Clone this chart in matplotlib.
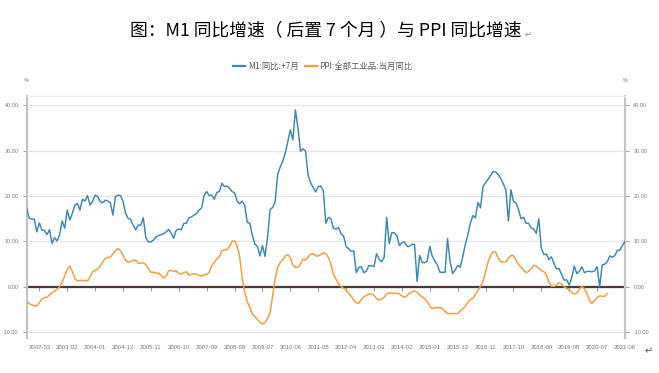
import matplotlib
matplotlib.use("Agg")
import matplotlib.pyplot as plt
import numpy as np
import pandas as pd

plt.rcParams['font.family'] = ['Noto Sans CJK SC', 'DejaVu Sans']

# ---------------- data ----------------
start_month = "2001-10"
n_months = 237

# M1 YoY (shifted +7 months), from 2001-10 axis position onwards
m1_yoy = [
    17.3, 15.1, 14.9, 14.9, 12.1, 14.1, 12.5, 12.4, 11.5, 12.6,
    9.6, 10.8, 10.1, 11.5, 14.5, 12.9, 16.9, 14.7, 16.2, 18.0, 18.4, 16.9,
    19.3, 18.9, 20.1, 18.0, 18.9, 20.2, 19.9, 18.8, 18.5, 19.1, 18.9, 18.5,
    15.8, 19.9, 20.2, 20.1, 18.8, 16.2, 15.1, 14.9, 13.6, 12.5, 13.6, 13.6,
    15.2, 10.8, 9.9, 9.9, 10.3, 11.0, 11.3, 11.5, 11.7, 12.1, 12.6, 11.8,
    10.7, 12.5, 12.7, 12.6, 14.0, 14.0, 15.2, 15.4, 15.8, 16.2, 16.9, 17.4,
    20.2, 21.0, 20.1, 20.2, 19.3, 20.8, 21.0, 22.8, 22.1, 22.2, 21.7, 21.0,
    20.7, 18.9, 18.3, 18.9, 17.9, 14.2, 14.0, 11.4, 9.4, 8.9, 6.8, 9.1,
    6.7, 10.9, 17.0, 17.5, 18.7, 24.8, 26.4, 27.7, 29.5, 32.0, 34.6, 32.4,
    39.0, 35.0, 29.9, 30.4, 29.9, 24.6, 22.9, 21.9, 20.9, 22.1, 22.2, 21.2,
    14.0, 15.3, 15.0, 12.9, 12.7, 13.1, 11.6, 11.2, 8.9, 8.4, 7.8, 7.9,
    3.1, 4.3, 4.4, 3.1, 3.5, 4.7, 4.6, 4.5, 7.3, 6.1, 5.5, 6.5,
    15.3, 9.5, 11.9, 11.9, 11.3, 9.1, 9.7, 9.9, 8.9, 8.9, 9.4, 9.3,
    1.2, 6.9, 5.4, 5.3, 5.7, 8.9, 6.7, 5.7, 4.8, 3.2, 3.2, 3.2,
    10.6, 5.6, 2.9, 3.7, 4.7, 4.3, 6.6, 9.3, 11.4, 14.0, 15.7, 15.2,
    18.6, 17.4, 22.1, 22.9, 23.7, 24.6, 25.4, 25.3, 24.7, 23.9, 22.7, 21.4,
    14.5, 21.4, 18.8, 18.5, 17.0, 15.0, 15.3, 14.0, 14.0, 13.0, 12.7, 11.8,
    15.0, 8.5, 7.1, 7.2, 6.0, 6.6, 5.1, 3.9, 4.0, 2.7, 1.5, 1.5,
    0.4, 2.0, 4.6, 2.9, 3.4, 4.4, 3.1, 3.4, 3.4, 3.3, 3.5, 4.4,
    0.0, 4.8, 5.0, 5.5, 6.8, 6.5, 6.9, 8.0, 8.1, 9.1, 10.0,
]

# PPI YoY, from 2001-10 onwards
ppi_yoy = [
    -3.2, -3.7, -4.0,
    -4.2, -4.2, -3.5, -2.7, -2.4, -2.3, -1.8, -1.3, -1.0, -0.5, 0.0, 1.1,
    2.4, 3.9, 4.6, 3.4, 1.8, 1.3, 1.4, 1.4, 1.4, 1.3, 2.2, 3.3,
    3.6, 3.9, 4.6, 5.5, 6.2, 6.5, 6.5, 7.3, 8.0, 8.4, 8.0, 7.0,
    5.8, 5.4, 5.6, 5.8, 5.9, 5.2, 5.2, 5.3, 4.9, 4.0, 3.2, 3.2,
    3.0, 3.0, 2.5, 1.9, 2.4, 3.5, 3.6, 3.4, 3.5, 2.9, 2.8, 3.1,
    3.3, 2.6, 2.7, 2.9, 2.8, 2.5, 2.4, 2.6, 2.7, 3.2, 4.6, 5.4,
    6.1, 6.6, 8.0, 8.1, 8.2, 8.8, 10.0, 10.1, 9.1, 6.6, 2.0, -1.1,
    -3.3, -4.5, -6.0, -6.6, -7.2, -7.8, -8.2, -7.9, -7.0, -5.8, -2.1, 1.7,
    4.3, 5.4, 5.9, 6.8, 7.1, 6.4, 4.8, 4.3, 4.3, 5.0, 6.1, 5.9,
    6.6, 7.2, 7.3, 6.8, 6.8, 7.1, 7.5, 7.3, 6.5, 5.0, 2.7, 1.7,
    0.7, 0.0, -0.3, -0.7, -1.4, -2.1, -2.9, -3.5, -3.6, -2.8, -2.2, -1.9,
    -1.6, -1.6, -1.9, -2.6, -2.9, -2.7, -2.3, -1.6, -1.3, -1.5, -1.4, -1.4,
    -1.6, -2.0, -2.3, -2.0, -1.4, -1.1, -0.9, -1.2, -1.8, -2.2, -2.7, -3.3,
    -4.3, -4.8, -4.6, -4.6, -4.6, -4.8, -5.4, -5.9, -5.9, -5.9, -5.9, -5.9,
    -5.3, -4.9, -4.3, -3.4, -2.8, -2.6, -1.7, -0.8, 0.1, 1.2, 3.3, 5.5,
    6.9, 7.8, 7.6, 6.4, 5.5, 5.5, 5.5, 6.3, 6.9, 6.9, 5.8, 4.9,
    4.3, 3.7, 3.1, 3.4, 4.1, 4.7, 4.6, 4.1, 3.6, 3.3, 2.7, 0.9,
    0.1, 0.1, 0.4, 0.9, 0.6, 0.0, -0.3, -0.8, -1.2, -1.6, -1.4, -0.5,
    0.1, -0.4, -1.5, -3.1, -3.7, -3.0, -2.4, -2.0, -2.1, -2.1, -1.5,
]

x_tick_labels = ["2002-03", "2003-02", "2004-01", "2004-12", "2005-11", "2006-10",
                 "2007-09", "2008-08", "2009-07", "2010-06", "2011-05", "2012-04",
                 "2013-03", "2014-02", "2015-01", "2015-12", "2016-11", "2017-10",
                 "2018-09", "2019-08", "2020-07", "2021-06"]
y_ticks = [-10, 0, 10, 20, 30, 40]
y_tick_labels = ["-10.00", "0.00", "10.00", "20.00", "30.00", "40.00"]

series_names = ["M1:同比:+7月", "PPI:全部工业品:当月同比"]
title = "图：M1 同比增速（ 后置 7 个月 ）与 PPI 同比增速"

# ---------------- figure ----------------
months = [str(p) for p in pd.period_range(start_month, periods=n_months, freq="M")]
xpos = np.arange(n_months)
tick_pos = [months.index(l) for l in x_tick_labels]

BLUE = "#3a86b5"
ORANGE = "#f7993c"
GRAY_TXT = "#747474"

fig = plt.figure(figsize=(6.59, 3.73), dpi=100)
fig.patch.set_facecolor("white")
ax = fig.add_axes([0.0405, 0.0925, 0.9079, 0.650])

ax.set_xlim(0, n_months - 1)
ax.set_ylim(-11.4, 42.05)

ax.set_yticks(y_ticks)
ax.set_yticklabels(y_tick_labels)
ax.grid(axis="y", color="#e6e6e6", linewidth=1.0, zorder=0)
ax.set_axisbelow(True)

ax.plot(xpos, m1_yoy, color=BLUE, linewidth=1.05, zorder=3, label=series_names[0])
ax.plot(xpos[:len(ppi_yoy)], ppi_yoy, color=ORANGE, linewidth=1.05, zorder=3,
        label=series_names[1])

# spines
for side in ("left", "right"):
    ax.spines[side].set_color("#c4c4c4")
    ax.spines[side].set_linewidth(1.6)
ax.spines["top"].set_color("#ececec")
ax.spines["top"].set_linewidth(1.0)
ax.spines["bottom"].set_position(("data", 0))
ax.spines["bottom"].set_color("#4a3b3b")
ax.spines["bottom"].set_linewidth(1.6)
ax.spines["bottom"].set_zorder(2)

ax.set_xticks(tick_pos)
ax.tick_params(axis="x", direction="out", length=3, width=0.7, color="#8a8a8a",
               labelbottom=False)
ax.yaxis.set_ticks_position("both")
ax.tick_params(axis="y", direction="out", length=3, width=0.7, color="#9a9a9a",
               labelleft=True, labelright=True, labelsize=3.9, labelcolor=GRAY_TXT, pad=3)
for lab in ax.get_yticklabels(which="both"):
    lab.set_family(["Liberation Sans", "DejaVu Sans"])

sec = ax.secondary_xaxis("bottom")
sec.set_xticks(tick_pos)
sec.set_xticklabels(x_tick_labels)
sec.spines["bottom"].set_visible(False)
sec.tick_params(axis="x", length=0, pad=5, labelsize=4.3, labelcolor=GRAY_TXT)
for lab in sec.get_xticklabels():
    lab.set_family(["Liberation Sans", "DejaVu Sans"])

# percent markers
fig.text(0.0405, 1 - 80.5 / 373, "%", fontsize=4, color=GRAY_TXT, ha="center", va="center",
         family=["Liberation Sans", "DejaVu Sans"])
fig.text(0.9484, 1 - 80.5 / 373, "%", fontsize=4, color=GRAY_TXT, ha="center", va="center",
         family=["Liberation Sans", "DejaVu Sans"])

# legend
leg = fig.legend(loc="center", bbox_to_anchor=(0.4900, 1 - 66.5 / 373), ncol=2, frameon=False,
                 fontsize=6, handlelength=1.4, handletextpad=0.3, columnspacing=0.8,
                 labelcolor="#5a5a5a")
for h in leg.get_lines():
    h.set_linewidth(1.6)

# title
fig.text(0.4945, 1 - 31.5 / 373, title, fontsize=12.8, color="black", ha="center", va="center")
fig.text(0.796, 1 - 34 / 373, "↵", fontsize=6, color="#8a8a8a", ha="left", va="center",
         family=["DejaVu Sans"])
fig.text(0.978, 1 - 351 / 373, "↵", fontsize=7, color="#555555", ha="left", va="center",
         family=["DejaVu Sans"])

fig.savefig("out.png", dpi=100, facecolor="white")
